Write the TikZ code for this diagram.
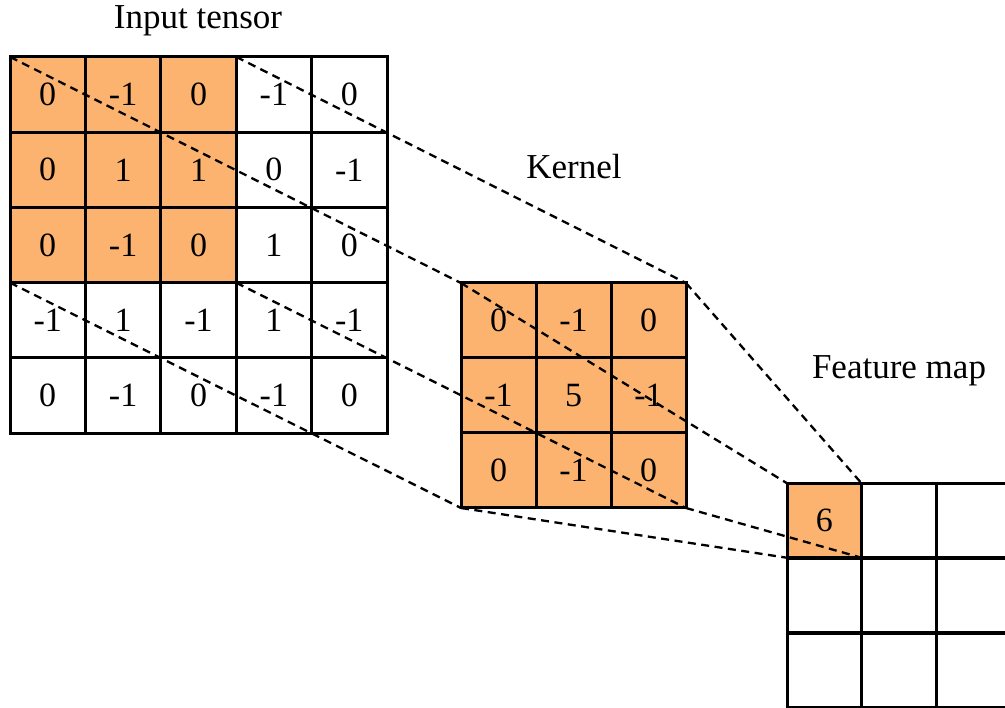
\documentclass[tikz,border=0pt]{standalone}
\usepackage{fontspec}
\setmainfont{Liberation Serif}
\definecolor{cellorange}{RGB}{252,179,111}
\begin{document}
\begin{tikzpicture}[x=1pt,y=-1pt,
  cell/.style={draw=black,line width=3pt,inner sep=0pt,outer sep=0pt,
    minimum width=#1,minimum height=#1,font=\fontsize{34}{40}\selectfont},
  hot/.style={fill=cellorange},
  lbl/.style={font=\fontsize{35}{42}\selectfont,inner sep=0pt,anchor=base},
  proj/.style={dash pattern=on 8pt off 5.5pt,line width=2.3pt}]
\useasboundingbox (0,0) rectangle (1005,708);
\clip (0,0) rectangle (1005,708);
% input tensor
\foreach \row [count=\r] in {{0,-1,0,-1,0},{0,1,1,0,-1},{0,-1,0,1,0},{-1,1,-1,1,-1},{0,-1,0,-1,0}}{
  \foreach \v [count=\c] in \row {
    \pgfmathsetmacro{\ishot}{(\r<4 && \c<4) ? 1 : 0}
    \ifdim\ishot pt>0.5pt
      \node[cell=75.4pt,hot] (in-\r-\c) at ({10+75.4*(\c-0.5)},{57+75.2*(\r-0.5)}) {\v};
    \else
      \node[cell=75.4pt] (in-\r-\c) at ({10+75.4*(\c-0.5)},{57+75.2*(\r-0.5)}) {\v};
    \fi
  }
}
% kernel
\foreach \row [count=\r] in {{0,-1,0},{-1,5,-1},{0,-1,0}}{
  \foreach \v [count=\c] in \row {
    \node[cell=75pt,hot] (k-\r-\c) at ({461+75*(\c-0.5)},{283+75*(\r-0.5)}) {\v};
  }
}
% feature map
\foreach \r in {1,2,3}{
  \foreach \c in {1,2,3}{
    \ifnum\r\c=11
      \node[cell=74.5pt,hot] (f-\r-\c) at ({787+74.5*(\c-0.5)},{483+75*(\r-0.5)}) {6};
    \else
      \node[cell=74.5pt] (f-\r-\c) at ({787+74.5*(\c-0.5)},{483+75*(\r-0.5)}) {};
    \fi
  }
}
% labels
\node[lbl] (lin) at (198,29) {Input tensor};
\node[lbl] (lk) at (574,179) {Kernel};
\node[lbl] (lf) at (899,379) {Feature map};
% projections input -> kernel
\draw[proj] (in-1-1.north west) -- (k-1-1.north west);
\draw[proj] (in-1-3.north east) -- (k-1-3.north east);
\draw[proj] (in-3-1.south west) -- (k-3-1.south west);
\draw[proj] (in-3-3.south east) -- (k-3-3.south east);
% projections kernel -> feature map
\draw[proj] (k-1-1.north west) -- (f-1-1.north west);
\draw[proj] (k-1-3.north east) -- (f-1-1.north east);
\draw[proj] (k-3-1.south west) -- (f-1-1.south west);
\draw[proj] (k-3-3.south east) -- (f-1-1.south east);
\end{tikzpicture}
\end{document}
